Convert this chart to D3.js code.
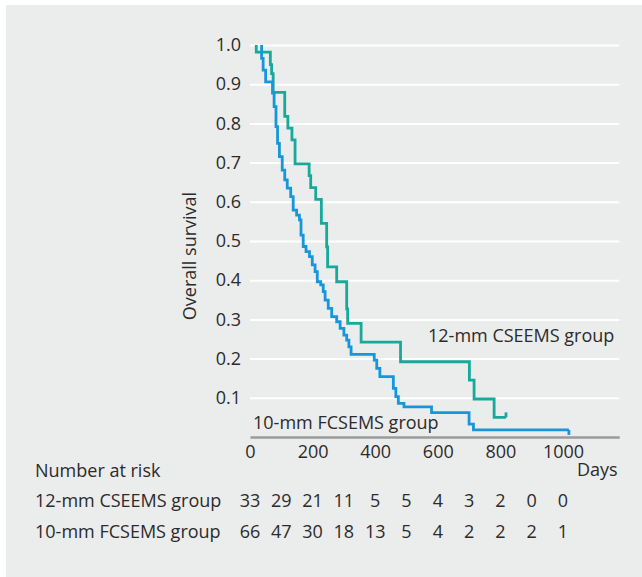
<!DOCTYPE html>
<html>
<head>
<meta charset="utf-8">
<script src="https://cdn.jsdelivr.net/npm/d3@7"></script>
<style>
  html, body { margin: 0; padding: 0; background: #ffffff; }
  svg { display: block; }
  text { font-family: "Open Sans", sans-serif; }
</style>
</head>
<body>
<svg id="chart" width="642" height="577"></svg>
<script>
// ---- Data ----
const cseemsDays = [20, 20, 65, 69, 74, 111, 121, 134, 144, 189, 194, 210, 228, 245, 248, 277, 309, 312, 355, 481, 701, 716, 780, 818];
const cseemsSurv = [1.0, 0.982, 0.95, 0.927, 0.879, 0.818, 0.788, 0.758, 0.697, 0.667, 0.636, 0.606, 0.545, 0.485, 0.434, 0.396, 0.327, 0.290, 0.242, 0.192, 0.145, 0.097, 0.050, 0.050];

const fcsemsDays = [37, 37, 42, 50, 72, 77, 83, 88, 94, 103, 111, 119, 130, 138, 149, 158, 163, 170, 179, 190, 199, 208, 215, 226, 234, 240, 250, 261, 277, 288, 300, 309, 316, 323, 397, 405, 415, 458, 466, 474, 492, 580, 700, 714, 1019];
const fcsemsSurv = [1.0, 0.966, 0.936, 0.906, 0.877, 0.843, 0.792, 0.749, 0.715, 0.681, 0.656, 0.635, 0.613, 0.579, 0.566, 0.554, 0.515, 0.486, 0.473, 0.460, 0.439, 0.422, 0.396, 0.388, 0.371, 0.349, 0.328, 0.307, 0.294, 0.277, 0.260, 0.247, 0.230, 0.211, 0.196, 0.175, 0.154, 0.124, 0.103, 0.086, 0.077, 0.062, 0.033, 0.018, 0.018];

const xTicks = [0, 200, 400, 600, 800, 1000];
const yTicks = [0.1, 0.2, 0.3, 0.4, 0.5, 0.6, 0.7, 0.8, 0.9, 1.0];
const riskDays = [0, 100, 200, 300, 400, 500, 600, 700, 800, 900, 1000];
const risk12 = [33, 29, 21, 11, 5, 5, 4, 3, 2, 0, 0];
const risk10 = [66, 47, 30, 18, 13, 5, 4, 2, 2, 2, 1];
const groupNames = ["12-mm CSEEMS group", "10-mm FCSEMS group"];

(function () {
// ---- Layout ----
const svg = d3.select("#chart");
const plotLeft = 250, plotRight = 619.3, plotTop = 45, plotBottom = 437;
const textColor = "#2b2b2b";
const teal = "#18a99a";
const blue = "#1796dc";

svg.append("rect").attr("x", 6).attr("y", 5).attr("width", 636).attr("height", 572).attr("fill", "#ebecec");

const x = d3.scaleLinear().domain([0, 1180]).range([plotLeft, plotRight]);
const y = d3.scaleLinear().domain([0, 1]).range([plotBottom, plotTop]);

// Y axis with white gridlines
const yAxis = svg.append("g")
  .attr("transform", `translate(${plotLeft},0)`)
  .call(d3.axisLeft(y).tickValues(yTicks).tickFormat(d3.format(".1f"))
    .tickSize(-(plotRight - plotLeft)).tickPadding(9));
yAxis.select(".domain").remove();
yAxis.selectAll(".tick line").attr("stroke", "#ffffff").attr("stroke-width", 2);
yAxis.selectAll(".tick text").attr("fill", textColor).attr("font-size", 18)
  .attr("font-family", "Open Sans");

// X axis
const xAxis = svg.append("g")
  .attr("transform", `translate(0,${plotBottom})`)
  .call(d3.axisBottom(x).tickValues(xTicks).tickFormat(d3.format("d"))
    .tickSize(0).tickSizeOuter(0).tickPadding(8));
xAxis.select(".domain").attr("stroke", "#9b9b9b").attr("stroke-width", 2.5);
xAxis.selectAll(".tick text").attr("fill", textColor).attr("font-size", 18)
  .attr("font-family", "Open Sans");

// Curves
const line = d3.line().x(d => x(d[0])).y(d => y(d[1])).curve(d3.curveStepAfter);
function drawCurve(days, surv, color, tickDir) {
  const pts = days.map((d, i) => [d, surv[i]]);
  svg.append("path").datum(pts).attr("d", line)
    .attr("fill", "none").attr("stroke", color).attr("stroke-width", 2.8)
    .attr("stroke-linejoin", "miter");
  const last = pts[pts.length - 1];
  svg.append("line")
    .attr("x1", x(last[0])).attr("x2", x(last[0]))
    .attr("y1", y(last[1])).attr("y2", y(last[1]) + tickDir)
    .attr("stroke", color).attr("stroke-width", 2.8);
}
drawCurve(cseemsDays, cseemsSurv, teal, -5);
drawCurve(fcsemsDays, fcsemsSurv, blue, 5);

// Curve labels
svg.append("text").attr("x", 428).attr("y", 342).attr("font-size", 18)
  .attr("fill", textColor).text(groupNames[0]);
svg.append("text").attr("x", 253).attr("y", 429).attr("font-size", 18)
  .attr("fill", textColor).text(groupNames[1]);

// Axis titles
svg.append("text").attr("transform", "translate(196,256) rotate(-90)")
  .attr("text-anchor", "middle").attr("font-size", 18).attr("fill", textColor)
  .text("Overall survival");
svg.append("text").attr("x", 577).attr("y", 476).attr("font-size", 18)
  .attr("fill", textColor).text("Days");

// Number at risk table
svg.append("text").attr("x", 35).attr("y", 477).attr("font-size", 18)
  .attr("fill", textColor).text("Number at risk");
const rows = [risk12, risk10];
const rowY = [507, 538];
rows.forEach((vals, r) => {
  svg.append("text").attr("x", 35).attr("y", rowY[r]).attr("font-size", 18)
    .attr("fill", textColor).text(groupNames[r]);
  svg.append("g").selectAll("text").data(vals).join("text")
    .attr("x", (d, i) => x(riskDays[i]))
    .attr("y", rowY[r])
    .attr("text-anchor", "middle")
    .attr("font-size", 18)
    .attr("fill", textColor)
    .text(d => d);
});
})();
</script>
</body>
</html>
